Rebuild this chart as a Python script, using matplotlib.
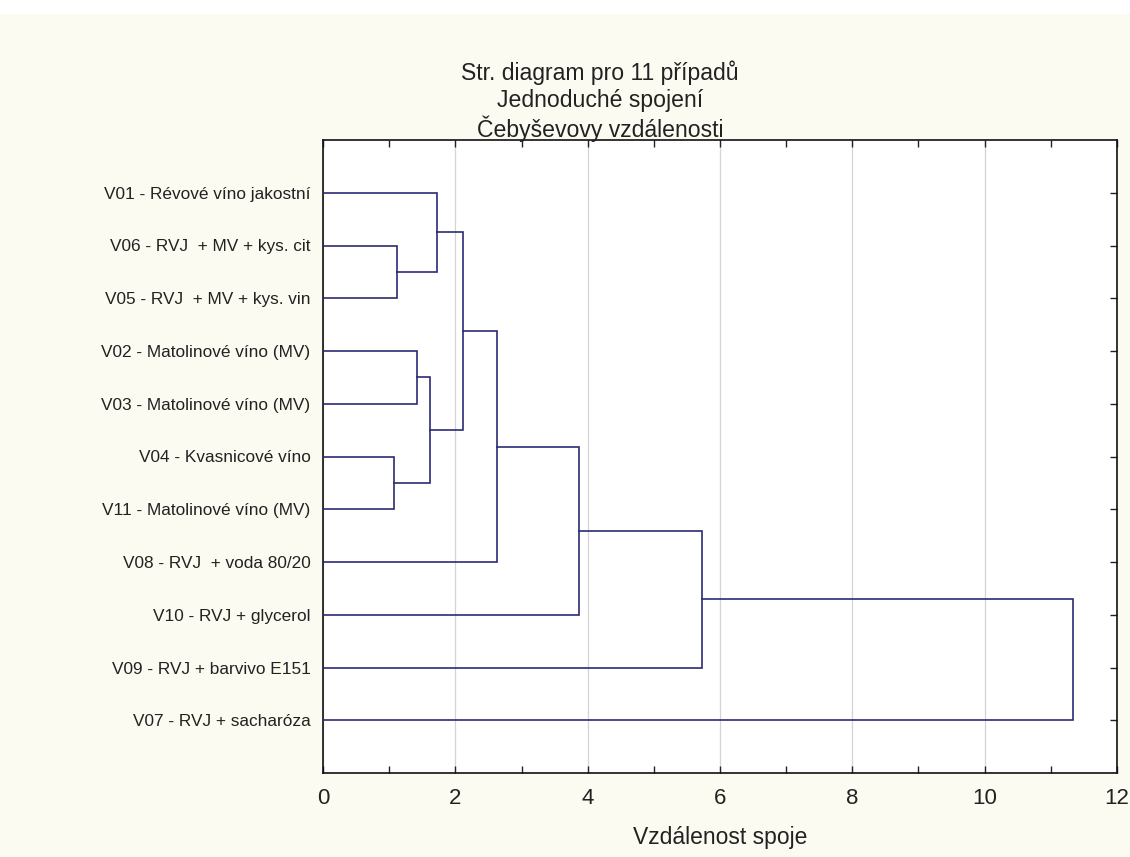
import matplotlib
matplotlib.use('Agg')
import matplotlib.pyplot as plt
from matplotlib.patches import Rectangle

plt.rcParams['font.family'] = ['Liberation Sans', 'DejaVu Sans']

labels = [
    "V01 - Révové víno jakostní",
    "V06 - RVJ  + MV + kys. cit",
    "V05 - RVJ  + MV + kys. vin",
    "V02 - Matolinové víno (MV)",
    "V03 - Matolinové víno (MV)",
    "V04 - Kvasnicové víno",
    "V11 - Matolinové víno (MV)",
    "V08 - RVJ  + voda 80/20",
    "V10 - RVJ + glycerol",
    "V09 - RVJ + barvivo E151",
    "V07 - RVJ + sacharóza",
]
# (left child, right child, linkage distance); leaves 0..10, clusters 11+
merges = [
    (5, 6, 1.07),
    (1, 2, 1.12),
    (3, 4, 1.42),
    (13, 11, 1.62),
    (0, 12, 1.72),
    (15, 14, 2.12),
    (16, 7, 2.63),
    (17, 8, 3.87),
    (18, 9, 5.73),
    (19, 10, 11.33),
]
title_lines = ["Str. diagram pro 11 případů", "Jednoduché spojení", "Čebyševovy vzdálenosti"]

fig = plt.figure(figsize=(11.3, 8.57), dpi=100, facecolor='#fcfbf1')
fig.patches.append(Rectangle((0, 1 - 13 / 857), 1, 13 / 857, transform=fig.transFigure,
                             color='white', zorder=-1))
ax = fig.add_axes([323 / 1130, 1 - 773 / 857, 794 / 1130, 633 / 857])
ax.set_facecolor('white')

n = len(labels)
ypos = {i: i + 1 for i in range(n)}
hgt = {i: 0.0 for i in range(n)}
col = '#2b2b73'
for k, (a, b, h) in enumerate(merges):
    c = n + k
    ya, yb = ypos[a], ypos[b]
    ax.plot([hgt[a], h, h, hgt[b]], [ya, ya, yb, yb], color=col, lw=1.2,
            solid_joinstyle='miter', zorder=3)
    ypos[c] = (ya + yb) / 2
    hgt[c] = h

ax.set_xlim(0, 12)
ax.set_ylim(12, 0)
ax.set_xticks(range(0, 13, 2))
ax.set_xticks(range(1, 12, 2), minor=True)
ax.grid(axis='x', which='major', color='#d4d4d4', lw=0.9, zorder=0)
ax.set_yticks(range(1, n + 1))
ax.set_yticklabels(labels)
ax.tick_params(axis='x', which='both', direction='in', top=True, length=5, width=1,
               labelsize=16, pad=11, colors='#222222')
ax.tick_params(axis='y', direction='in', left=False, right=True, length=5, width=1,
               labelsize=12.4, pad=9, colors='#222222')
for s in ax.spines.values():
    s.set_linewidth(1.2)
    s.set_color('#111111')

ax.set_xlabel("Vzdálenost spoje", fontsize=16.5, color='#222222', labelpad=12)
for i, t in enumerate(title_lines):
    fig.text(600 / 1130, 1 - (73 + 28 * i) / 857, t, ha='center', va='center',
             fontsize=16.6, color='#222222')

fig.savefig('out.png', dpi=100, facecolor=fig.get_facecolor())
